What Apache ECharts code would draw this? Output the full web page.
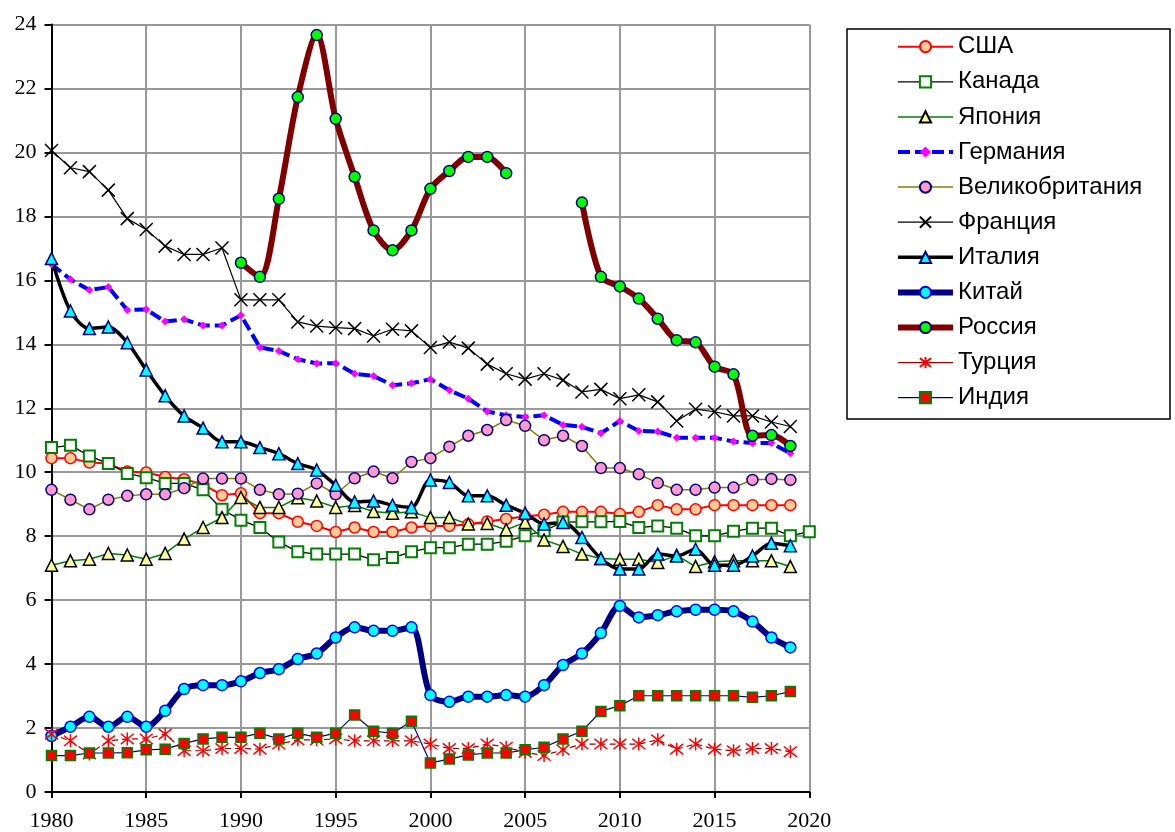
<!DOCTYPE html>
<html>
<head>
<meta charset="utf-8">
<script src="https://cdn.jsdelivr.net/npm/echarts@6/dist/echarts.min.js"></script>
<style>
  html, body { margin: 0; padding: 0; background: #fff; }
  #chart { width: 1175px; height: 832px; }
</style>
</head>
<body>
<div id="chart"></div>
<script>
var years = [1980, 1981, 1982, 1983, 1984, 1985, 1986, 1987, 1988, 1989,
             1990, 1991, 1992, 1993, 1994, 1995, 1996, 1997, 1998, 1999,
             2000, 2001, 2002, 2003, 2004, 2005, 2006, 2007, 2008, 2009,
             2010, 2011, 2012, 2013, 2014, 2015, 2016, 2017, 2018, 2019, 2020];

var usa = [10.44, 10.44, 10.30, 10.27, 10.02, 9.99, 9.85, 9.78, 9.62, 9.28,
           9.34, 8.72, 8.72, 8.45, 8.32, 8.13, 8.27, 8.13, 8.13, 8.27,
           8.32, 8.32, 8.37, 8.46, 8.54, 8.62, 8.67, 8.76, 8.76, 8.76,
           8.69, 8.76, 8.97, 8.84, 8.84, 8.97, 8.97, 8.97, 8.97, 8.97, null];
var canada = [10.77, 10.84, 10.51, 10.27, 9.96, 9.83, 9.65, 9.65, 9.45, 8.84,
              8.50, 8.27, 7.82, 7.51, 7.44, 7.44, 7.44, 7.26, 7.33, 7.51,
              7.64, 7.64, 7.75, 7.75, 7.84, 8.01, 8.17, 8.44, 8.45, 8.45,
              8.46, 8.27, 8.32, 8.25, 8.01, 8.01, 8.15, 8.25, 8.25, 8.01, 8.14];
var japan = [7.09, 7.23, 7.28, 7.46, 7.41, 7.28, 7.46, 7.91, 8.27, 8.58,
             9.21, 8.90, 8.90, 9.20, 9.10, 8.90, 8.96, 8.77, 8.72, 8.76,
             8.58, 8.58, 8.38, 8.40, 8.20, 8.43, 7.88, 7.68, 7.44, 7.30,
             7.28, 7.28, 7.18, 7.40, 7.05, 7.20, 7.23, 7.23, 7.23, 7.05, null];
var germany = [16.50, 16.03, 15.70, 15.79, 15.07, 15.09, 14.71, 14.78, 14.59, 14.59,
               14.91, 13.90, 13.79, 13.53, 13.40, 13.41, 13.08, 13.01, 12.72, 12.78,
               12.91, 12.56, 12.30, 11.90, 11.78, 11.73, 11.78, 11.48, 11.42, 11.22,
               11.60, 11.29, 11.27, 11.08, 11.08, 11.08, 10.96, 10.91, 10.91, 10.59, null];
var uk = [9.45, 9.14, 8.84, 9.14, 9.26, 9.31, 9.31, 9.50, 9.80, 9.80,
          9.80, 9.45, 9.31, 9.33, 9.65, 9.31, 9.81, 10.02, 9.81, 10.32,
          10.44, 10.80, 11.14, 11.32, 11.63, 11.45, 11.00, 11.14, 10.82, 10.13,
          10.13, 9.94, 9.66, 9.45, 9.45, 9.52, 9.52, 9.76, 9.79, 9.76, null];
var france = [20.06, 19.52, 19.40, 18.82, 17.93, 17.59, 17.07, 16.81, 16.81, 17.01,
              15.39, 15.39, 15.39, 14.70, 14.57, 14.52, 14.49, 14.26, 14.47, 14.42,
              13.90, 14.07, 13.88, 13.38, 13.08, 12.91, 13.08, 12.88, 12.51, 12.59,
              12.30, 12.42, 12.20, 11.60, 11.97, 11.89, 11.76, 11.76, 11.57, 11.43, null];
var italy = [16.68, 15.04, 14.49, 14.54, 14.05, 13.20, 12.39, 11.76, 11.38, 10.95,
             10.95, 10.77, 10.58, 10.27, 10.07, 9.59, 9.07, 9.10, 8.97, 8.90,
             9.76, 9.68, 9.26, 9.26, 8.97, 8.72, 8.38, 8.43, 7.96, 7.30,
             6.97, 6.97, 7.44, 7.38, 7.59, 7.09, 7.09, 7.38, 7.78, 7.70, null];
var china = [1.75, 2.04, 2.35, 2.04, 2.35, 2.04, 2.54, 3.22, 3.34, 3.34,
             3.46, 3.72, 3.84, 4.16, 4.33, 4.83, 5.15, 5.04, 5.04, 5.15,
             3.03, 2.82, 2.98, 2.98, 3.03, 2.98, 3.34, 3.97, 4.33, 4.97,
             5.82, 5.46, 5.53, 5.65, 5.70, 5.70, 5.65, 5.33, 4.83, 4.52, null];
var russia = [null, null, null, null, null, null, null, null, null, null,
              16.55, 16.11, 18.55, 21.73, 23.67, 21.05, 19.24, 17.56, 16.94, 17.56,
              18.86, 19.42, 19.86, 19.86, 19.35, null, null, null, 18.43, 16.11,
              15.81, 15.43, 14.80, 14.13, 14.06, 13.30, 13.06, 11.14, 11.16, 10.82, null];
var turkey = [1.81, 1.60, 1.19, 1.60, 1.66, 1.66, 1.81, 1.29, 1.29, 1.36,
              1.36, 1.34, 1.50, 1.63, 1.63, 1.66, 1.60, 1.60, 1.60, 1.60,
              1.50, 1.36, 1.36, 1.50, 1.40, 1.24, 1.14, 1.32, 1.50, 1.50,
              1.50, 1.50, 1.63, 1.34, 1.50, 1.34, 1.29, 1.36, 1.36, 1.26, null];
var india = [1.14, 1.14, 1.22, 1.22, 1.23, 1.32, 1.34, 1.52, 1.66, 1.71,
             1.71, 1.84, 1.66, 1.84, 1.71, 1.84, 2.41, 1.90, 1.84, 2.21,
             0.91, 1.03, 1.16, 1.22, 1.22, 1.32, 1.40, 1.66, 1.90, 2.52,
             2.70, 3.01, 3.01, 3.01, 3.01, 3.01, 3.01, 2.96, 3.01, 3.14, null];

var xMarker = 'path://M0,0L10,10M10,0L0,10';
var starMarker = 'path://M0,1L10,9M10,1L0,9M5,0L5,10';

function pairs(vals) {
    return years.map(function (y, i) { return [y, vals[i]]; });
}

function line(name, vals, o) {
    return {
        name: name,
        type: 'line',
        data: pairs(vals),
        showAllSymbol: true,
        connectNulls: false,
        smooth: o.smooth || false,
        symbol: o.symbol,
        symbolSize: o.size,
        lineStyle: { color: o.line, width: o.width, type: o.dash || 'solid' },
        itemStyle: { color: o.fill, borderColor: o.border, borderWidth: o.bw }
    };
}

var chart = echarts.init(document.getElementById('chart'));

var option = {
    animation: false,
    backgroundColor: '#fff',
    grid: { left: 51.5, right: 365.7, top: 24.5, bottom: 38.5 },
    xAxis: {
        type: 'value',
        min: 1980, max: 2020, interval: 5,
        axisLine: { lineStyle: { color: '#000', width: 2 } },
        axisTick: { show: true, length: 6, lineStyle: { color: '#000', width: 2 } },
        axisLabel: {
            color: '#000', fontFamily: 'Liberation Serif', fontSize: 22, margin: 18,
            formatter: function (v) { return String(v); }
        },
        splitLine: { show: true, lineStyle: { color: '#999', width: 2 } }
    },
    yAxis: {
        type: 'value',
        min: 0, max: 24, interval: 2,
        axisLine: { show: true, lineStyle: { color: '#000', width: 2 } },
        axisTick: { show: true, length: 7, lineStyle: { color: '#000', width: 2 } },
        axisLabel: { color: '#000', fontFamily: 'Liberation Serif', fontSize: 22, margin: 15 },
        splitLine: { show: true, lineStyle: { color: '#999', width: 2 } }
    },
    graphic: [{
        type: 'rect',
        shape: { x: 847, y: 29, width: 323, height: 390 },
        style: { fill: 'none', stroke: '#000', lineWidth: 1.5 }
    }],
    legend: {
        orient: 'vertical',
        left: 895, top: 33.7,
        padding: 0,
        itemWidth: 55, itemHeight: 14, itemGap: 9.1,
        lineStyle: { width: 'inherit' },
        textStyle: { fontFamily: 'Liberation Sans', fontSize: 24, color: '#000', lineHeight: 26 },
        data: ['США', 'Канада', 'Япония', 'Германия', 'Великобритания', 'Франция',
               'Италия', 'Китай', 'Россия',
               { name: 'Турция', lineStyle: { type: 'solid', color: '#990000', width: 1.2 } },
               'Индия']
    },
    series: [
        line('США', usa, { symbol: 'circle', size: 11, line: '#ff0000', width: 2, fill: '#ffcc99', border: '#ff0000', bw: 1.5 }),
        line('Канада', canada, { symbol: 'rect', size: 11, line: '#000000', width: 1.3, fill: '#ffffff', border: '#008000', bw: 2 }),
        line('Япония', japan, { symbol: 'triangle', size: 12, line: '#008000', width: 1.5, fill: '#ffff99', border: '#000000', bw: 1.5 }),
        line('Германия', germany, { symbol: 'diamond', size: 8, line: '#0000ff', width: 4, dash: [12, 5], fill: '#ff00ff', border: '#ff00ff', bw: 0 }),
        line('Великобритания', uk, { symbol: 'circle', size: 11, line: '#808000', width: 1.5, fill: '#ff99cc', border: '#000080', bw: 1.5 }),
        line('Франция', france, { symbol: xMarker, size: 13, line: '#000000', width: 1.2, fill: '#000000', border: '#000000', bw: 1.5 }),
        line('Италия', italy, { symbol: 'triangle', size: 12, line: '#000000', width: 3.5, smooth: 0.3, fill: '#00ffff', border: '#000080', bw: 1.5 }),
        line('Китай', china, { symbol: 'circle', size: 11, line: '#000080', width: 6, smooth: 0.3, fill: '#00ffff', border: '#0000ff', bw: 1.5 }),
        line('Россия', russia, { symbol: 'circle', size: 11, line: '#800000', width: 6, smooth: 0.3, fill: '#00ff00', border: '#000080', bw: 1.5 }),
        line('Турция', turkey, { symbol: starMarker, size: 13, line: '#990000', width: 1.2, dash: [6, 4], fill: '#ff0000', border: '#ff0000', bw: 1.5 }),
        line('Индия', india, { symbol: 'rect', size: 10, line: '#000080', width: 1.2, fill: '#ff0000', border: '#008000', bw: 1.5 })
    ]
};

chart.setOption(option);
</script>
</body>
</html>
